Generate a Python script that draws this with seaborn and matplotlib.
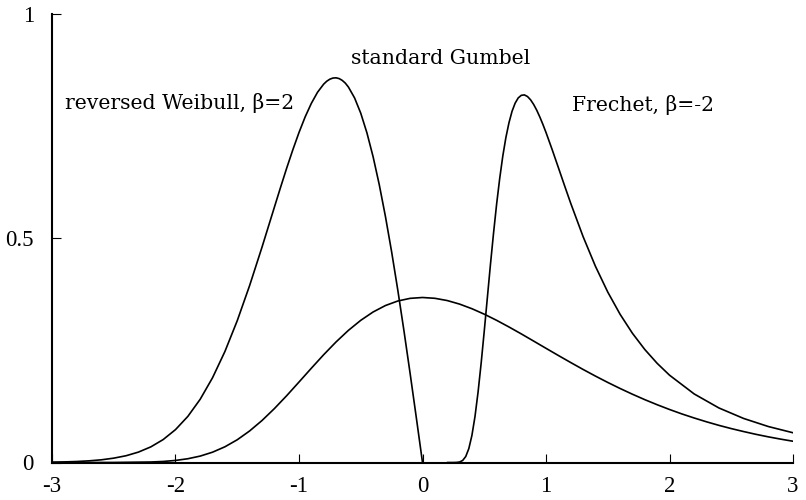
import seaborn as sns
from matplotlib import pyplot as plt

# values
weibull_x = [-3.0, -2.9, -2.8, -2.7, -2.6, -2.5, -2.4, -2.3, -2.2, -2.1, -2.0,
             -1.9, -1.8, -1.7, -1.6, -1.5, -1.4, -1.3, -1.2, -1.15, -1.1, -1.05, -1.0,
             -0.95, -0.9, -0.85, -0.8, -0.775, -0.75, -0.725, -0.7, -0.675, -0.65, -0.625, -0.6,
             -0.55, -0.5, -0.45, -0.4, -0.35, -0.3, -0.25, -0.2, -0.15, -0.1, -0.05, 0.0]
weibull_y = [0.0007, 0.0013, 0.0022, 0.0037, 0.0060, 0.0097, 0.0151, 0.0232, 0.0348, 0.0511, 0.0733,
             0.1028, 0.1410, 0.1890, 0.2474, 0.3162, 0.3944, 0.4797, 0.5686, 0.6129, 0.6561, 0.6972, 0.7358,
             0.7707, 0.8008, 0.8255, 0.8437, 0.8502, 0.8547, 0.8572, 0.8577, 0.8560, 0.8520, 0.8459, 0.8372,
             0.8129, 0.7788, 0.7350, 0.6817, 0.6193, 0.5483, 0.4697, 0.3843, 0.2933, 0.1980, 0.0998, 0.0]

gumbel_x = [-3.0, -2.5, -2.2, -2.1, -2.0, -1.9, -1.8, -1.7, -1.6, -1.5, -1.4, -1.3, -1.2, -1.1,
            -1.0, -0.9, -0.8, -0.7, -0.6, -0.5, -0.4, -0.3, -0.2, -0.1, 0.0,
            0.1, 0.2, 0.3, 0.4, 0.5, 0.6, 0.7, 0.8, 0.9, 1.0,
            1.1, 1.2, 1.3, 1.4, 1.5, 1.6, 1.7, 1.8, 1.9, 2.0,
            2.1, 2.2, 2.3, 2.4, 2.5, 2.6, 2.7, 2.8, 2.9, 3.0]
gumbel_y = [0.0, 0.0001, 0.0011, 0.0023, 0.0046, 0.0084, 0.0143, 0.0230, 0.0350, 0.0507, 0.0703, 0.0935, 0.1200, 0.1489,
            0.1794, 0.2102, 0.2404, 0.2688, 0.2946, 0.3170, 0.3356, 0.3500, 0.3601, 0.3660, 0.3679,
            0.3661, 0.3611, 0.3532, 0.3429, 0.3307, 0.3170, 0.3022, 0.2867, 0.2707, 0.2546,
            0.2386, 0.2229, 0.2075, 0.1927, 0.1785, 0.1650, 0.1522, 0.1401, 0.1288, 0.1182,
            0.1083, 0.0992, 0.0907, 0.0828, 0.0756, 0.0690, 0.0628, 0.0572, 0.0521, 0.0474]

frechet_x = [0.2, 0.25, 0.275, 0.3, 0.325, 0.35, 0.375, 0.4, 0.425, 0.45, 0.475, 0.5, 0.525, 0.55, 0.575,
             0.6, 0.625, 0.65, 0.675, 0.7, 0.725, 0.75, 0.775, 0.8, 0.825, 0.85, 0.875, 0.9, 0.925,
             0.95, 0.975, 1.0, 1.05, 1.1, 1.15, 1.2, 1.3, 1.4, 1.5, 1.6, 1.7, 1.8, 1.9, 2.0,
             2.2, 2.4, 2.6, 2.8, 3.0]
frechet_y = [0.0, 0.0, 0.0002, 0.0011, 0.0045, 0.0133, 0.0310, 0.0603, 0.1026, 0.1573, 0.2219, 0.2931, 0.3672, 0.4412, 0.5110,
             0.5759, 0.6332, 0.6831, 0.7244, 0.7574, 0.7831, 0.8012, 0.8129, 0.8187, 0.8196, 0.8160, 0.8087, 0.7983, 0.7854,
             0.7703, 0.7537, 0.7358, 0.6975, 0.6576, 0.6174, 0.5780, 0.5038, 0.4376, 0.3800, 0.3304, 0.2880, 0.2519, 0.2211, 0.1947,
             0.1528, 0.1216, 0.0982, 0.0802, 0.0663]

x_ticks = [-3, -2, -1, 0, 1, 2, 3]
y_ticks = [0, 0.5, 1]
y_tick_labels = ['0', '0.5', '1']

sns.set_style('white')
plt.rcParams['font.family'] = ['Liberation Serif', 'DejaVu Serif']
plt.rcParams['text.color'] = 'black'

fig = plt.figure(figsize=(8.06, 5.0), dpi=100)
ax = fig.add_axes([0.0645, 0.075, 0.9194, 0.897])

for xs, ys in [(weibull_x, weibull_y), (gumbel_x, gumbel_y), (frechet_x, frechet_y)]:
    sns.lineplot(x=xs, y=ys, ax=ax, color='black', linewidth=1.2, sort=False)

ax.set_xlim(-3, 3)
ax.set_ylim(0, 1)
ax.set_xticks(x_ticks)
ax.set_xticklabels([str(t) for t in x_ticks])
ax.set_yticks(y_ticks)
ax.set_yticklabels(y_tick_labels)
ax.tick_params(bottom=True, left=True, direction='in', length=6.5, width=0.8,
               labelsize=16.5, colors='black')
ax.tick_params(axis='x', pad=10)
ax.tick_params(axis='y', pad=13)
for side in ['top', 'right']:
    ax.spines[side].set_visible(False)
for side in ['left', 'bottom']:
    ax.spines[side].set_color('black')
    ax.spines[side].set_linewidth(1.5)

lab = dict(fontsize=14.7, family=['DejaVu Serif'], va='center', color='black')
ax.text(-2.895, 0.8016, 'reversed Weibull, β=2', ha='left', **lab)
ax.text(0.1457, 0.8997, 'standard Gumbel', ha='center', **lab)
ax.text(1.2105, 0.797, 'Frechet, β=-2', ha='left', **lab)

fig.savefig('out.png', dpi=100)
